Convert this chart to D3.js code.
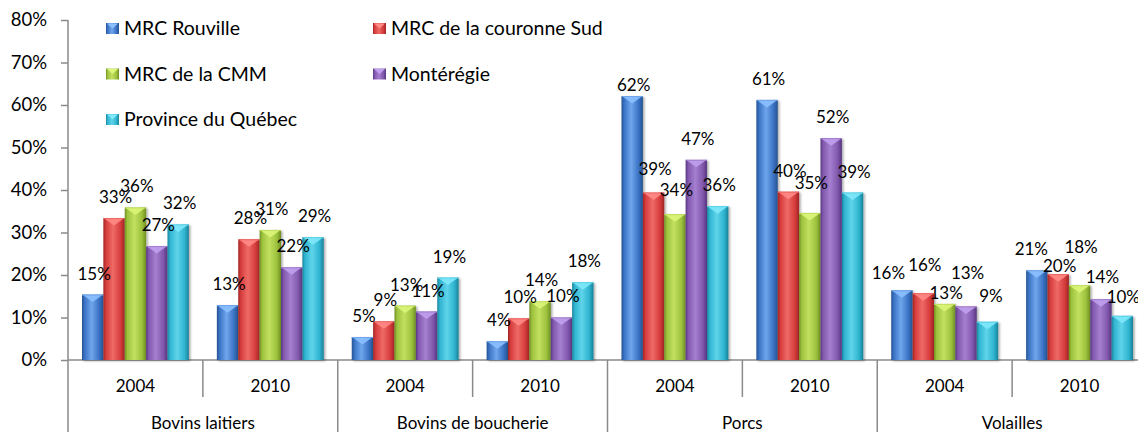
<!DOCTYPE html>
<html><head><meta charset="utf-8">
<script src="https://cdn.jsdelivr.net/npm/d3@7"></script>
<style>
html,body{margin:0;padding:0;background:#fff;}
svg{display:block;font-family:Lato, "Open Sans", sans-serif;}
</style></head>
<body><svg id="c" width="1138" height="432"></svg>
<script>
const categories = ["Bovins laitiers", "Bovins de boucherie", "Porcs", "Volailles"];
const years = ["2004", "2010"];
const seriesNames = ["MRC Rouville", "MRC de la couronne Sud", "MRC de la CMM", "Montérégie", "Province du Québec"];
const rouville    = [0.154, 0.129, 0.054, 0.044, 0.621, 0.612, 0.164, 0.211];
const couronneSud = [0.334, 0.284, 0.091, 0.098, 0.394, 0.396, 0.157, 0.202];
const cmm         = [0.359, 0.306, 0.128, 0.138, 0.343, 0.346, 0.132, 0.176];
const monteregie  = [0.268, 0.218, 0.114, 0.100, 0.471, 0.522, 0.126, 0.143];
const quebec      = [0.319, 0.289, 0.194, 0.183, 0.362, 0.394, 0.090, 0.104];
const yTicks = [0, 0.1, 0.2, 0.3, 0.4, 0.5, 0.6, 0.7, 0.8];

const seriesValues = [rouville, couronneSud, cmm, monteregie, quebec];
const palette = [
  {base:"#3a72c4", dark:"#24528f", light:"#6fa6ec", tri:"#8cc0ff"},
  {base:"#d63c3c", dark:"#9e2424", light:"#ee6a66", tri:"#ff8a86"},
  {base:"#9dc23d", dark:"#6f8f22", light:"#c2e060", tri:"#dcf57a"},
  {base:"#8158ad", dark:"#573681", light:"#a57fd0", tri:"#c0a0ee"},
  {base:"#2fb4d0", dark:"#1a8199", light:"#5fd4ea", tri:"#7fe8fb"}
];
// manual label nudges (layout only): key "group index|series index" -> [dx, dy]
const labelNudge = {
  "4|0": [0, 10], "4|1": [0, -3], "4|2": [0, -3],
  "5|2": [0, -9],
  "6|0": [-15, 4], "6|1": [0, -7], "6|2": [0, 10], "6|3": [0, -12], "6|4": [2, -5],
  "7|0": [-7, 0], "7|1": [0, 13], "7|2": [0, -17], "7|3": [0, -1], "7|4": [-0.5, 2]
};

const groups = [];
categories.forEach(c => years.forEach(y => groups.push(c + "|" + y)));

const svg = d3.select("#c");
const defs = svg.append("defs");
palette.forEach((p, i) => {
  const g = defs.append("linearGradient").attr("id", "g" + i).attr("x1", "0").attr("x2", "1").attr("y1", "0").attr("y2", "0");
  [[0, p.dark], [0.12, p.base], [0.45, p.light], [0.8, p.base], [1, p.dark]].forEach(s =>
    g.append("stop").attr("offset", s[0]).attr("stop-color", s[1]));
});
const f = defs.append("filter").attr("id", "sh").attr("x", "-20%").attr("y", "-20%").attr("width", "150%").attr("height", "150%");
f.append("feDropShadow").attr("dx", 1.5).attr("dy", 1).attr("stdDeviation", 1.2).attr("flood-color", "#000").attr("flood-opacity", 0.35);

const y = d3.scaleLinear().domain([0, 0.8]).range([360, 20]);
const x0 = d3.scaleBand().domain(groups).range([68, 1147]).padding(0);
const x1 = d3.scaleBand().domain(d3.range(seriesNames.length)).range([0, x0.bandwidth()]).paddingInner(0).paddingOuter(0.655);

const axisColor = "#8a8a8a";

// Y axis
const yAxis = d3.axisLeft(y).tickValues(yTicks).tickFormat(d3.format(".0%")).tickSize(7).tickPadding(14);
const ya = svg.append("g").attr("transform", "translate(68,0)").call(yAxis);
ya.select(".domain").remove();
ya.selectAll(".tick line").attr("stroke", axisColor).attr("stroke-width", 1.5);
ya.selectAll(".tick text").attr("font-size", "18.5px").attr("fill", "#000").attr("font-family", "Lato");
svg.append("line").attr("x1", 68).attr("x2", 68).attr("y1", 20).attr("y2", 432).attr("stroke", axisColor).attr("stroke-width", 1.5);

// X axis
svg.append("line").attr("x1", 68).attr("x2", 1147).attr("y1", y(0)).attr("y2", y(0)).attr("stroke", axisColor).attr("stroke-width", 1.5);
groups.forEach((g, i) => {
  const xr = x0(g) + x0.bandwidth();
  const isCat = (i % years.length) === years.length - 1;
  svg.append("line").attr("x1", xr).attr("x2", xr).attr("y1", y(0)).attr("y2", isCat ? 432 : 397)
    .attr("stroke", axisColor).attr("stroke-width", 1.5);
  svg.append("text").attr("x", x0(g) + x0.bandwidth() / 2).attr("y", 386).attr("dy", "0.35em")
    .attr("text-anchor", "middle").attr("font-size", "17px").text(g.split("|")[1]);
});
categories.forEach(c => {
  const a = x0(c + "|" + years[0]);
  const b = x0(c + "|" + years[years.length - 1]) + x0.bandwidth();
  svg.append("text").attr("x", (a + b) / 2).attr("y", 423).attr("dy", "0.35em")
    .attr("text-anchor", "middle").attr("font-size", "17px").text(c);
});

// Bars
const bw = x1.bandwidth();
groups.forEach((g, gi) => {
  seriesValues.forEach((vals, si) => {
    const v = vals[gi];
    const bx = x0(g) + x1(si);
    const top = y(v);
    const p = palette[si];
    const bar = svg.append("g");
    bar.append("rect").attr("x", bx).attr("y", top).attr("width", bw).attr("height", y(0) - top)
      .attr("fill", "url(#g" + si + ")").attr("filter", "url(#sh)");
    bar.append("polygon").attr("points", [[bx + 1, top + 0.5], [bx + bw - 1, top + 0.5], [bx + bw / 2, top + 7.5]].map(q => q.join(",")).join(" "))
      .attr("fill", p.tri).attr("opacity", 0.9);
    bar.append("line").attr("x1", bx).attr("x2", bx + bw).attr("y1", top + 0.5).attr("y2", top + 0.5)
      .attr("stroke", p.light).attr("stroke-width", 1);
  });
});
// Labels
groups.forEach((g, gi) => {
  seriesValues.forEach((vals, si) => {
    const v = vals[gi];
    const n = labelNudge[gi + "|" + si] || [0, 0];
    svg.append("text").attr("x", x0(g) + x1(si) + bw / 2 + 1.5 + n[0]).attr("y", y(v) - 21 + n[1]).attr("dy", "0.35em")
      .attr("text-anchor", "middle").attr("font-size", "17px").attr("fill", "#000")
      .text(d3.format(".0%")(v));
  });
});

// Legend
const legX = [106, 373], legY = [28.5, 74, 119.5];
seriesNames.forEach((name, i) => {
  const lx = legX[i % 2], ly = legY[Math.floor(i / 2)];
  const p = palette[i];
  const lg = svg.append("g").attr("transform", `translate(${lx},${ly})`);
  lg.append("rect").attr("x", 0).attr("y", -5.5).attr("width", 13).attr("height", 11).attr("fill", "url(#g" + i + ")");
  lg.append("polygon").attr("points", "1,-5 12,-5 6.5,0").attr("fill", p.tri);
  lg.append("text").attr("x", 18).attr("y", 0).attr("dy", "0.35em").attr("font-size", "19.5px").attr("fill", "#000").text(name);
});
</script></body></html>
